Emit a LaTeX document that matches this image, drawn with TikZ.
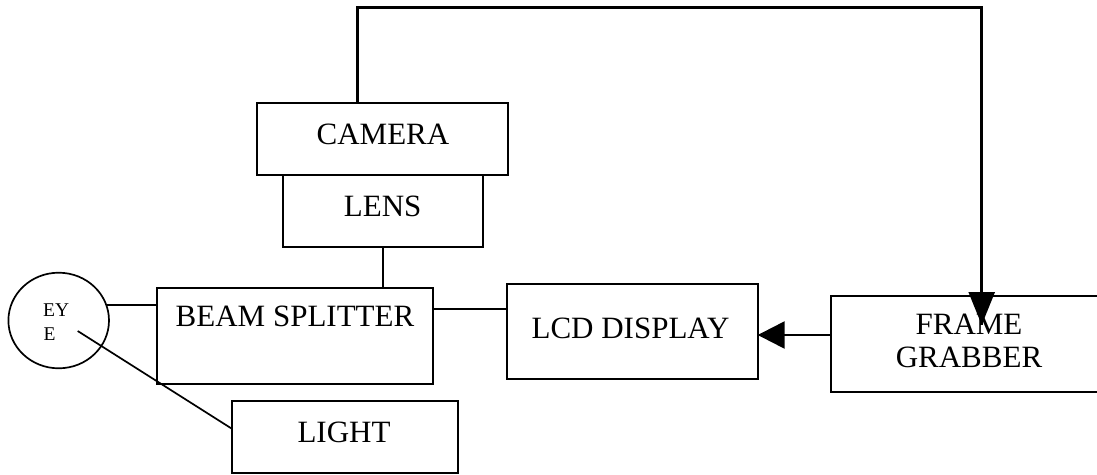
\documentclass[tikz,border=0pt]{standalone}
\usepackage{fontspec}
\setmainfont{Liberation Serif}
\usetikzlibrary{arrows.meta,shapes.geometric}
\begin{document}
\begin{tikzpicture}[x=1pt,y=-1pt,
  box/.style={draw,line width=1.9pt,rectangle,inner sep=0pt,outer sep=0pt},
  lbl/.style={anchor=base,inner sep=0pt,font=\fontsize{31}{33.7}\selectfont},
  small/.style={anchor=base west,inner sep=0pt,font=\fontsize{19.5}{24}\selectfont},
  wire/.style={line width=1.7pt},
  thick wire/.style={line width=2.5pt}]
\clip (0,0) rectangle (1097,474);
\fill[white] (0,0) rectangle (1097,474);
% boxes
\node[box,minimum width=251pt,minimum height=72pt] (cam) at (382.5,139) {};
\node[box,minimum width=200pt,minimum height=72pt] (lens) at (383,211) {};
\node[box,minimum width=276pt,minimum height=96.3pt] (bs) at (295.3,335.9) {};
\node[box,minimum width=225.4pt,minimum height=72pt] (light) at (345,436.7) {};
\node[box,minimum width=251pt,minimum height=95pt] (lcd) at (632.2,331.5) {};
\node[box,minimum width=276pt,minimum height=96pt] (fg) at (969,343.7) {};
\node[draw,line width=1.7pt,ellipse,inner sep=0pt,outer sep=0pt,minimum width=100.6pt,minimum height=95.6pt] (eye) at (58.7,320.5) {};
% labels
\node[lbl] (tcam) at (383,144) {CAMERA};
\node[lbl] (tlens) at (382.7,216) {LENS};
\node[lbl] (tbs) at (295,326) {BEAM SPLITTER};
\node[lbl] (tlight) at (344,442.7) {LIGHT};
\node[lbl] (tlcd) at (630.5,338.3) {LCD DISPLAY};
\node[lbl] (tfg1) at (969,334) {FRAME};
\node[lbl] (tfg2) at (969,367.7) {GRABBER};
\node[small] (tey) at (43,316) {EY};
\node[small] (te) at (43.3,340) {E};
% connectors
\coordinate (c1) at (357.7,7.3);
\coordinate (c2) at (981.7,7.3);
\coordinate (c3) at (981.7,325);
\coordinate (h1) at (0,309);
\coordinate (h3) at (0,335);
\coordinate (e1) at (77.7,331);
\coordinate (h4) at (0,429);
\draw[thick wire] (c1 |- cam.north) -- (c1) -- (c2) -- (c3);
\draw[thick wire,-{Triangle[length=33pt,width=26pt]}] (c2 |- fg.north) -- (c3);
\draw[wire] (lens.south) -- (lens.south |- bs.north);
\draw[wire] (eye.18) -- (eye.18 -| bs.west);
\draw[wire] (bs.east |- h1) -- (lcd.west |- h1);
\draw[thick wire,-{Triangle[length=27pt,width=27pt]}] (fg.west |- h3) -- (lcd.east |- h3);
\draw[wire] (e1) -- (light.west |- h4);
\end{tikzpicture}
\end{document}
